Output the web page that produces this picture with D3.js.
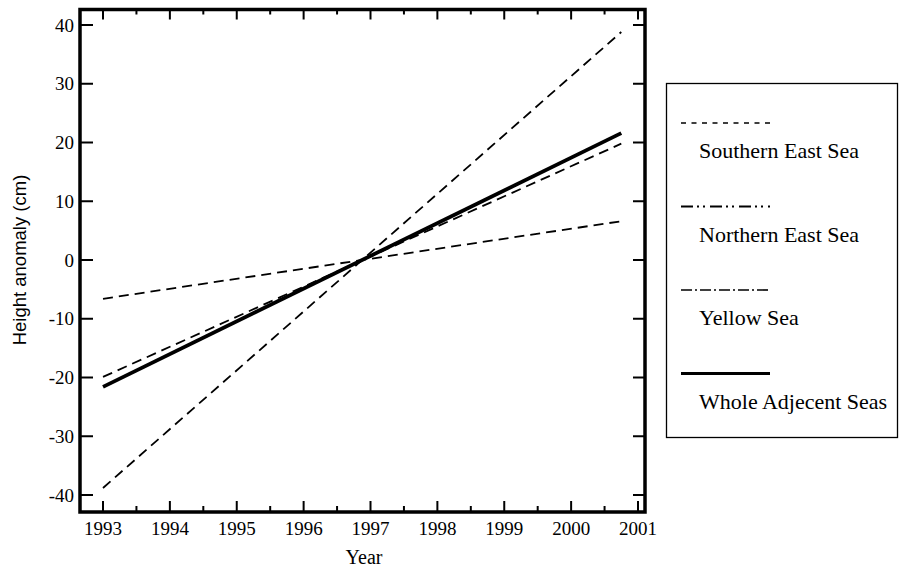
<!DOCTYPE html>
<html>
<head>
<meta charset="utf-8">
<script src="https://cdn.jsdelivr.net/npm/d3@7"></script>
<style>
  body { margin: 0; background: #fff; }
  text { fill: #000; }
</style>
</head>
<body>
<svg id="chart"></svg>
<script>
// series: value at start (1993.0) and end (~2000.75)
let years = [1993.0, 2000.75]
let southern = [-38.8, 38.8]
let northern = [-19.9, 19.8]
let yellow = [-6.6, 6.6]
let whole = [-21.6, 21.6]

let series_names = ["Southern East Sea", "Northern East Sea", "Yellow Sea", "Whole Adjecent Seas"]
let x_ticks = [1993, 1994, 1995, 1996, 1997, 1998, 1999, 2000, 2001]
let y_ticks = [-40, -30, -20, -10, 0, 10, 20, 30, 40]

let svg = d3.select('#chart')
    .attr('width', 899)
    .attr('height', 569)

// frame of the plot area
let frame_l = 80, frame_r = 645, frame_t = 9.5, frame_b = 512

let x = d3.scaleLinear().domain([1993, 2001]).range([103, 638])
let y = d3.scaleLinear().domain([-40, 40]).range([495, 25])

let serif = "Liberation Serif, DejaVu Serif, serif"

// lines
let styles = [
    {values: southern, dash: "10,6", width: 1.8},
    {values: northern, dash: "10,6", width: 1.8},
    {values: yellow, dash: "10,6", width: 1.8},
    {values: whole, dash: null, width: 3.8}
]

let line = d3.line()
    .x(function(d){ return x(d[0]) })
    .y(function(d){ return y(d[1]) })

svg.append("g").selectAll("path")
    .data(styles)
    .enter()
    .append("path")
    .attr("d", function(d){ return line(years.map(function(t, i){ return [t, d.values[i]] })) })
    .attr("fill", "none")
    .attr("stroke", "#000")
    .attr("stroke-width", function(d){ return d.width })
    .attr("stroke-dasharray", function(d){ return d.dash })

// ticks, drawn inward on all four sides
let minor_x = d3.range(1993.5, 2001, 1)

let tick_g = svg.append("g").attr("stroke", "#000").attr("stroke-width", 2)

tick_g.selectAll("line.xb")
    .data(x_ticks)
    .enter().append("line")
    .attr("x1", function(d){ return x(d) }).attr("x2", function(d){ return x(d) })
    .attr("y1", frame_b).attr("y2", frame_b - 11)
tick_g.selectAll("line.xbm")
    .data(minor_x)
    .enter().append("line")
    .attr("x1", function(d){ return x(d) }).attr("x2", function(d){ return x(d) })
    .attr("y1", frame_b).attr("y2", frame_b - 6)
tick_g.selectAll("line.xt")
    .data(x_ticks)
    .enter().append("line")
    .attr("x1", function(d){ return x(d) }).attr("x2", function(d){ return x(d) })
    .attr("y1", frame_t).attr("y2", frame_t + 10)
tick_g.selectAll("line.xtm")
    .data(minor_x)
    .enter().append("line")
    .attr("x1", function(d){ return x(d) }).attr("x2", function(d){ return x(d) })
    .attr("y1", frame_t).attr("y2", frame_t + 5)
tick_g.selectAll("line.yl")
    .data(y_ticks)
    .enter().append("line")
    .attr("x1", frame_l).attr("x2", frame_l + 13)
    .attr("y1", function(d){ return y(d) }).attr("y2", function(d){ return y(d) })
tick_g.selectAll("line.yr")
    .data(y_ticks)
    .enter().append("line")
    .attr("x1", frame_r).attr("x2", frame_r - 12)
    .attr("y1", function(d){ return y(d) }).attr("y2", function(d){ return y(d) })

svg.append("rect")
    .attr("x", frame_l).attr("y", frame_t)
    .attr("width", frame_r - frame_l).attr("height", frame_b - frame_t)
    .attr("fill", "none")
    .attr("stroke", "#000")
    .attr("stroke-width", 3.5)

// tick labels
svg.append("g").selectAll("text")
    .data(x_ticks)
    .enter().append("text")
    .attr("x", function(d){ return x(d) })
    .attr("y", 535)
    .attr("text-anchor", "middle")
    .attr("font-family", serif)
    .attr("font-size", 19)
    .text(function(d){ return d })

svg.append("g").selectAll("text")
    .data(y_ticks)
    .enter().append("text")
    .attr("x", 74)
    .attr("y", function(d){ return y(d) })
    .attr("dy", "0.35em")
    .attr("text-anchor", "end")
    .attr("font-family", serif)
    .attr("font-size", 19)
    .text(function(d){ return d })

svg.append("text")
    .attr("x", 364).attr("y", 564)
    .attr("text-anchor", "middle")
    .attr("font-family", serif)
    .attr("font-size", 20)
    .text("Year")

svg.append("text")
    .attr("transform", "translate(26,260) rotate(-90)")
    .attr("text-anchor", "middle")
    .attr("font-family", "Liberation Sans, Arial, sans-serif")
    .attr("font-size", 18.5)
    .text("Height anomaly (cm)")

// legend
let legend_dash = ["5,5.5", "12,4,2,4,2,5", "11,3,2,3", null]
let legend_width = [1.6, 2, 1.6, 3]

let lg = svg.append("g")
lg.append("rect")
    .attr("x", 666.5).attr("y", 83.5)
    .attr("width", 231).attr("height", 354)
    .attr("fill", "none").attr("stroke", "#000").attr("stroke-width", 1.3)

let items = lg.selectAll("g")
    .data(series_names)
    .enter().append("g")
    .attr("transform", function(d, i){ return "translate(0," + (i * 83.5) + ")" })

items.append("line")
    .attr("x1", 681).attr("x2", 770)
    .attr("y1", 123).attr("y2", 123)
    .attr("stroke", "#000")
    .attr("stroke-width", function(d, i){ return legend_width[i] })
    .attr("stroke-dasharray", function(d, i){ return legend_dash[i] })

items.append("text")
    .attr("x", 699).attr("y", 158)
    .attr("font-family", serif)
    .attr("font-size", 22)
    .text(function(d){ return d })
</script>
</body>
</html>
